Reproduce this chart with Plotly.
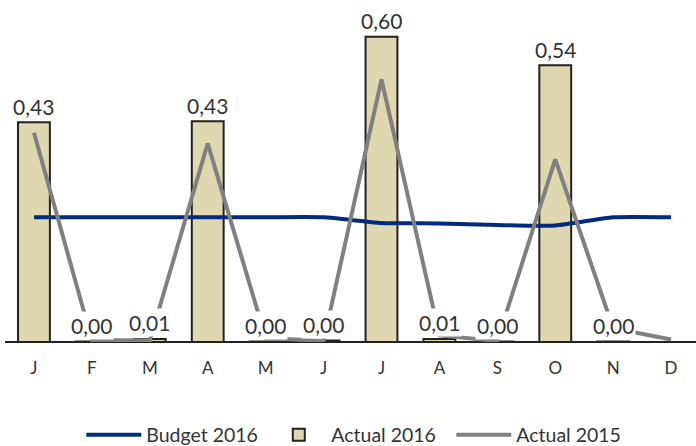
import plotly.graph_objects as go

months = ["J", "F", "M", "A", "M", "J", "J", "A", "S", "O", "N", "D"]
budget_2016 = [0.245, 0.245, 0.245, 0.245, 0.245, 0.245, 0.234, 0.233, 0.230, 0.229, 0.245, 0.245]
actual_2016 = [0.432, 0.001, 0.006, 0.434, 0.001, 0.003, 0.600, 0.006, 0.001, 0.544, 0.001, None]
actual_2015 = [0.411, 0.004, 0.003, 0.390, 0.008, 0.002, 0.516, 0.013, 0.002, 0.359, 0.027, 0.005]

x = list(range(len(months)))
FONT = "Lato"
TXT = "#333333"

fig = go.Figure()
fig.add_trace(go.Bar(
    x=x, y=actual_2016, name="Actual 2016", width=0.55,
    marker=dict(color="#DFD7AF", line=dict(color="#222222", width=2)),
    legendrank=2,
))
fig.add_trace(go.Scatter(
    x=x, y=budget_2016, name="Budget 2016", mode="lines",
    line=dict(color="#002B7F", width=4, shape="spline", smoothing=0.6),
    legendrank=1,
))
fig.add_trace(go.Scatter(
    x=x, y=actual_2015, name="Actual 2015", mode="lines",
    line=dict(color="#808080", width=4),
    legendrank=3,
))

for xi, v in zip(x, actual_2016):
    if v is None:
        continue
    fig.add_annotation(
        x=xi, y=v, text=f"{v:.2f}".replace(".", ","), showarrow=False,
        yanchor="middle", yshift=16, bgcolor="white", borderpad=1,
        font=dict(family=FONT, size=21, color=TXT),
    )

fig.update_layout(
    width=696, height=446,
    margin=dict(l=5, r=0, t=0, b=104, autoexpand=False),
    paper_bgcolor="white", plot_bgcolor="white",
    font=dict(family=FONT, color=TXT),
    showlegend=True,
    legend=dict(
        orientation="h", x=0.512, xanchor="center", y=-0.215, yanchor="top",
        font=dict(family=FONT, size=19.5, color=TXT),
        traceorder="normal", entrywidth=115, itemwidth=55,
    ),
    xaxis=dict(
        range=[-0.5, 11.43], tickmode="array", tickvals=x, ticktext=months,
        showgrid=False, zeroline=False, showline=False, automargin=False,
        ticks="", ticklabelstandoff=14,
        tickfont=dict(family=FONT, size=17, color=TXT),
    ),
    yaxis=dict(
        range=[0, 0.672], showgrid=False, zeroline=True, zerolinecolor="#222222",
        zerolinewidth=2, showticklabels=False, showline=False, ticks="",
        automargin=False,
    ),
)

fig.write_html("out.html", config={"displayModeBar": False},
               post_script="document.body.style.margin='0';")
